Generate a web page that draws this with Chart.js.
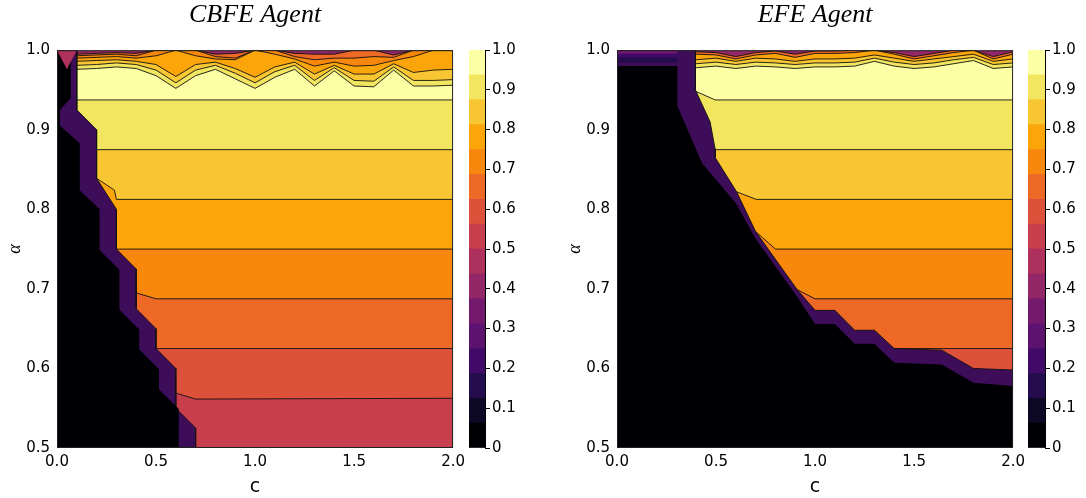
<!DOCTYPE html>
<html>
<head>
<meta charset="utf-8">
<script src="https://cdn.jsdelivr.net/npm/chart.js@4.4.1/dist/chart.umd.min.js"></script>
<style>
html, body { margin: 0; padding: 0; background: #fff; }
#wrap { position: relative; width: 1086px; height: 498px; overflow: hidden; }
canvas { position: absolute; top: 0; }
</style>
</head>
<body>
<div id="wrap">
	<canvas id="cbfe" width="470" height="498" style="left:0px"></canvas>
	<canvas id="cbfe-bar" width="75" height="498" style="left:460px"></canvas>
	<canvas id="efe" width="485" height="498" style="left:545px"></canvas>
	<canvas id="efe-bar" width="66" height="498" style="left:1020px"></canvas>
</div>
<script>
// c grid used for the noisy contours near alpha = 1
const c_grid = [0, 0.1, 0.2, 0.3, 0.4, 0.5, 0.6, 0.7, 0.8, 0.9, 1.0, 1.1, 1.2, 1.3, 1.4, 1.5, 1.6, 1.7, 1.8, 1.9, 2.0];

// colorbar levels and ticks
const cbar_levels = [0, 0.0625, 0.125, 0.1875, 0.25, 0.3125, 0.375, 0.4375, 0.5, 0.5625, 0.625, 0.6875, 0.75, 0.8125, 0.875, 0.9375, 1.0];
const cbar_ticks = [0, 0.1, 0.2, 0.3, 0.4, 0.5, 0.6, 0.7, 0.8, 0.9, 1.0];

// ---- CBFE agent ----
const cbfe_top10 = [0.995, 0.995, 0.996, 0.997, 0.996, 1.000, 1.000, 1.000, 0.995, 0.996, 1.000, 1.000, 0.996, 0.995, 0.995, 1.000, 1.000, 0.994, 1.000, 1.000, 1.000];
const cbfe_top11 = [0.993, 0.993, 0.994, 0.995, 0.993, 1.000, 1.000, 1.000, 0.992, 0.990, 1.000, 1.000, 0.992, 0.988, 0.990, 0.990, 0.992, 0.991, 1.000, 1.000, 1.000];
const cbfe_top12 = [0.990, 0.990, 0.991, 0.992, 0.990, 0.993, 1.000, 0.993, 0.989, 0.988, 1.000, 0.995, 0.989, 0.980, 0.985, 0.980, 0.981, 0.987, 0.992, 1.000, 1.000];
const cbfe_top13 = [0.986, 0.986, 0.987, 0.988, 0.986, 0.982, 0.967, 0.982, 0.985, 0.977, 0.966, 0.979, 0.985, 0.970, 0.981, 0.970, 0.970, 0.983, 0.972, 0.975, 0.976];
const cbfe_top14 = [0.981, 0.981, 0.982, 0.984, 0.982, 0.975, 0.959, 0.975, 0.981, 0.971, 0.959, 0.973, 0.981, 0.962, 0.978, 0.962, 0.961, 0.979, 0.962, 0.962, 0.963];
const cbfe_top15 = [0.976, 0.976, 0.977, 0.979, 0.977, 0.968, 0.952, 0.968, 0.976, 0.964, 0.952, 0.966, 0.976, 0.955, 0.974, 0.955, 0.954, 0.975, 0.955, 0.955, 0.956];

const cbfe_0938 = [[0, 0.9375], [2, 0.9375]];
const cbfe_0875 = [[0, 0.875], [2, 0.875]];
const cbfe_0813 = [[0, 0.839], [0.2, 0.839], [0.29, 0.824], [0.3, 0.8125], [2, 0.8125]];
const cbfe_0750 = [[0, 0.75], [2, 0.75]];
const cbfe_0688 = [[0, 0.695], [0.4, 0.695], [0.5, 0.6875], [2, 0.6875]];
const cbfe_0625 = [[0, 0.625], [2, 0.625]];
const cbfe_0563 = [[0, 0.569], [0.6, 0.569], [0.7, 0.5615], [2, 0.5625]];

const cbfe_edge = [[0, 1.0], [0.1, 1.0], [0.1, 0.925], [0.2, 0.9], [0.2, 0.839], [0.3, 0.8], [0.3, 0.75], [0.4, 0.725], [0.4, 0.675], [0.5, 0.65], [0.5, 0.625], [0.6, 0.6], [0.6, 0.55], [0.7, 0.525], [0.7, 0.5], [2, 0.5]];
const cbfe_black = [[0, 1.0], [0.07, 1.0], [0.07, 0.94], [0.015, 0.925], [0.015, 0.905], [0.115, 0.883], [0.115, 0.824], [0.215, 0.8], [0.215, 0.749], [0.315, 0.724], [0.315, 0.674], [0.415, 0.649], [0.415, 0.624], [0.515, 0.599], [0.515, 0.574], [0.615, 0.549], [0.615, 0.5], [2, 0.5]];
const cbfe_corner = [[0, 1.0], [0.005, 1.0], [0.05, 0.976], [0.1, 1.0]];

// ---- EFE agent ----
const efe_top11 = [0.998, 0.998, 0.998, 0.998, 0.998, 0.997, 0.992, 0.997, 0.999, 0.995, 0.999, 0.999, 1.000, 1.000, 0.997, 0.992, 0.996, 1.000, 1.000, 0.992, 0.998];
const efe_top12 = [0.995, 0.995, 0.995, 0.995, 0.995, 0.994, 0.989, 0.994, 0.996, 0.991, 0.996, 0.996, 0.997, 1.000, 0.995, 0.989, 0.993, 0.997, 1.000, 0.989, 0.995];
const efe_top13 = [0.988, 0.988, 0.988, 0.988, 0.988, 0.990, 0.986, 0.990, 0.989, 0.986, 0.989, 0.989, 0.990, 0.994, 0.990, 0.986, 0.989, 0.992, 0.995, 0.986, 0.989];
const efe_top14 = [0.983, 0.983, 0.983, 0.983, 0.983, 0.985, 0.982, 0.985, 0.984, 0.982, 0.984, 0.984, 0.985, 0.990, 0.985, 0.982, 0.984, 0.988, 0.991, 0.982, 0.984];
const efe_top15 = [0.978, 0.978, 0.978, 0.978, 0.978, 0.980, 0.977, 0.980, 0.979, 0.977, 0.979, 0.979, 0.980, 0.986, 0.980, 0.977, 0.979, 0.983, 0.987, 0.977, 0.979];

const efe_0938 = [[0, 0.948], [0.4, 0.948], [0.496, 0.9375], [2, 0.9375]];
const efe_0875 = [[0, 0.875], [2, 0.875]];
const efe_0813 = [[0, 0.822], [0.604, 0.822], [0.703, 0.8125], [2, 0.8125]];
const efe_0750 = [[0, 0.772], [0.7, 0.772], [0.8, 0.75], [2, 0.75]];
const efe_0688 = [[0, 0.699], [0.91, 0.699], [1.0, 0.6875], [2, 0.6875]];
const efe_0625 = [[0, 0.625], [2, 0.625]];

const efe_edge = [[0, 1.0], [0.396, 1.0], [0.396, 0.95], [0.47, 0.91], [0.496, 0.875], [0.496, 0.865], [0.604, 0.822], [0.7, 0.772], [0.91, 0.699], [1.0, 0.673], [1.1, 0.673], [1.2, 0.648], [1.3, 0.648], [1.4, 0.625], [1.64, 0.623], [1.8, 0.6], [2, 0.598]];
const efe_black = [[0, 0.98], [0.305, 0.98], [0.305, 0.93], [0.43, 0.858], [0.6, 0.808], [0.7, 0.763], [0.91, 0.69], [1.0, 0.656], [1.1, 0.656], [1.2, 0.631], [1.3, 0.631], [1.4, 0.607], [1.64, 0.605], [1.8, 0.582], [2, 0.578]];
const efe_strip1 = [[0, 0.985], [0.305, 0.985]];
const efe_strip2 = [[0, 0.991], [0.305, 0.991]];
const efe_strip3 = [[0, 0.996], [0.305, 0.996]];

// inferno colours for the 16 bands
const inferno = ['#000004', '#0c0826', '#240c4f', '#420a68', '#5c126e', '#74196e', '#932667', '#ae305c',
	'#c73e4c', '#dd513a', '#ed6925', '#f8870e', '#fca50a', '#f8c632', '#f2e661', '#fcffa4'];
const edgeColor = '#3e0d5a';

const pts = (arr) => arr.map(([x, y]) => ({x: x, y: y}));
const gridPts = (vals) => vals.map((y, i) => ({x: c_grid[i], y: y}));
const full = [[0, 1.0], [2, 1.0]];

// layers in painting order: [points, colour, fill target, draw contour line]
const cbfe_layers = [
	[pts(full), inferno[6], 'start', false],
	[gridPts(cbfe_top10), inferno[10], 'start', true],
	[gridPts(cbfe_top11), inferno[11], 'start', true],
	[gridPts(cbfe_top12), inferno[12], 'start', true],
	[gridPts(cbfe_top13), inferno[13], 'start', true],
	[gridPts(cbfe_top14), inferno[14], 'start', true],
	[gridPts(cbfe_top15), inferno[15], 'start', true],
	[pts(cbfe_0938), inferno[14], 'start', true],
	[pts(cbfe_0875), inferno[13], 'start', true],
	[pts(cbfe_0813), inferno[12], 'start', true],
	[pts(cbfe_0750), inferno[11], 'start', true],
	[pts(cbfe_0688), inferno[10], 'start', true],
	[pts(cbfe_0625), inferno[9], 'start', true],
	[pts(cbfe_0563), inferno[8], 'start', true],
	[pts(cbfe_edge), edgeColor, 'start', true],
	[pts(cbfe_black), inferno[0], 'start', false],
	[pts(cbfe_corner), inferno[7], 'end', false],
];

const efe_layers = [
	[pts(full), inferno[6], 'start', false],
	[gridPts(efe_top11), inferno[10], 'start', true],
	[gridPts(efe_top12), inferno[12], 'start', true],
	[gridPts(efe_top13), inferno[13], 'start', true],
	[gridPts(efe_top14), inferno[14], 'start', true],
	[gridPts(efe_top15), inferno[15], 'start', true],
	[pts(efe_0938), inferno[14], 'start', true],
	[pts(efe_0875), inferno[13], 'start', true],
	[pts(efe_0813), inferno[12], 'start', true],
	[pts(efe_0750), inferno[11], 'start', true],
	[pts(efe_0688), inferno[10], 'start', true],
	[pts(efe_0625), inferno[9], 'start', true],
	[pts(efe_edge), edgeColor, 'start', true],
	[pts(efe_black), inferno[0], 'start', false],
	[pts(efe_strip1), inferno[2], 'end', false],
	[pts(efe_strip2), inferno[3], 'end', false],
	[pts(efe_strip3), inferno[5], 'end', false],
];

const tickFont = {family: 'DejaVu Sans', size: 15};

const frame = {
	id: 'frame',
	afterDatasetsDraw(chart) {
		const {ctx, chartArea: a} = chart;
		ctx.save();
		ctx.strokeStyle = '#222';
		ctx.lineWidth = 1;
		ctx.strokeRect(a.left + 0.5, a.top + 0.5, a.width - 1, a.height - 1);
		ctx.restore();
	}
};

function contour(id, title, layers, yWidth, alphaPad) {
	const datasets = layers.map(([data, color, fill, line], i) => ({
		data: data,
		fill: fill,
		backgroundColor: color,
		borderColor: line ? '#111' : 'rgba(0,0,0,0)',
		borderWidth: 0.9,
		pointRadius: 0,
		tension: 0,
		order: layers.length - i
	}));
	return new Chart(document.getElementById(id), {
		type: 'line',
		data: {datasets: datasets},
		plugins: [frame],
		options: {
			responsive: false,
			animation: false,
			events: [],
			layout: {padding: {left: 0, right: 0, top: 0, bottom: 0}},
			plugins: {
				legend: {display: false},
				tooltip: {enabled: false},
				title: {
					display: true,
					text: title,
					fullSize: false,
					color: '#000',
					font: {family: 'Liberation Serif', style: 'italic', size: 26, weight: 'normal'},
					padding: {top: 0, bottom: 19}
				}
			},
			scales: {
				x: {
					type: 'linear', min: 0, max: 2,
					ticks: {stepSize: 0.5, color: '#000', font: tickFont, padding: 5, maxRotation: 0,
						callback: (v) => v.toFixed(1)},
					grid: {display: false, drawTicks: false},
					border: {display: false},
					title: {display: true, text: 'c', color: '#000', font: {family: 'DejaVu Sans', size: 19}, padding: 0},
					afterFit: (s) => { s.height = 50; }
				},
				y: {
					type: 'linear', min: 0.5, max: 1.0,
					ticks: {stepSize: 0.1, color: '#000', font: tickFont, padding: 7,
						callback: (v) => v.toFixed(1)},
					grid: {display: false, drawTicks: false},
					border: {display: false},
					title: {display: true, text: 'α', color: '#000', font: {family: 'Liberation Serif', style: 'italic', size: 18}, padding: {top: alphaPad}},
					afterFit: (s) => { s.width = yWidth; }
				}
			}
		}
	});
}

function colorbar(id, padLeft, yWidth) {
	const datasets = inferno.map((color, i) => ({
		data: [cbar_levels[i + 1] - cbar_levels[i]],
		backgroundColor: color,
		borderWidth: 0,
		barPercentage: 1,
		categoryPercentage: 1
	}));
	return new Chart(document.getElementById(id), {
		type: 'bar',
		data: {labels: [''], datasets: datasets},
		options: {
			responsive: false,
			animation: false,
			events: [],
			layout: {padding: {left: padLeft, right: 0, top: 50, bottom: 50}},
			plugins: {legend: {display: false}, tooltip: {enabled: false}},
			scales: {
				x: {display: false, stacked: true},
				y: {
					position: 'right', stacked: true, min: 0, max: 1,
					afterBuildTicks: (s) => { s.ticks = cbar_ticks.map((v) => ({value: v})); },
					ticks: {color: '#000', font: tickFont, padding: 2,
						callback: (v) => v === 0 ? '0' : v.toFixed(1)},
					grid: {display: true, drawOnChartArea: false, drawTicks: true, tickLength: 5, color: '#000'},
					border: {display: true, color: '#000'},
					afterFit: (s) => { s.width = yWidth; }
				}
			}
		}
	});
}

contour('cbfe', 'CBFE Agent', cbfe_layers, 57, 4);
contour('efe', 'EFE Agent', efe_layers, 72, 19);
colorbar('cbfe-bar', 9, 50);
colorbar('efe-bar', 8, 41);
</script>
</body>
</html>
